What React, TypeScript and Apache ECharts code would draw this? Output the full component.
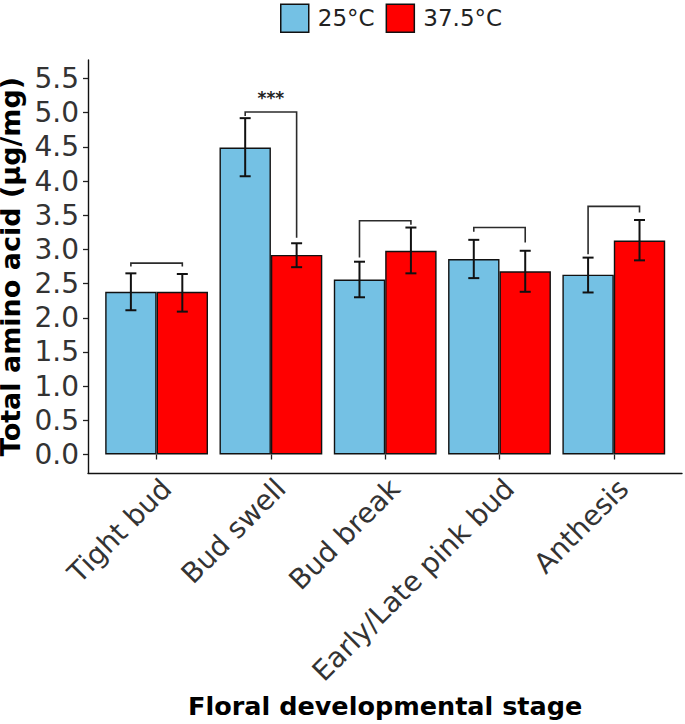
import React, { useEffect, useRef } from "react";
import * as echarts from "echarts";

const categories = ["Tight bud", "Bud swell", "Bud break", "Early/Late pink bud", "Anthesis"];
const seriesNames = ["25°C", "37.5°C"];
const mean25 = [2.38, 4.49, 2.56, 2.86, 2.63];
const low25 = [2.11, 4.07, 2.3, 2.58, 2.37];
const high25 = [2.65, 4.92, 2.82, 3.14, 2.88];
const mean37 = [2.38, 2.92, 2.98, 2.68, 3.13];
const low37 = [2.09, 2.74, 2.65, 2.38, 2.84];
const high37 = [2.64, 3.09, 3.32, 2.98, 3.43];
const bracketTop = [2.8, 5.01, 3.42, 3.32, 3.63];
const bracketLeftEnd = [2.75, 4.95, 2.88, 3.26, 2.93];
const bracketRightEnd = [2.75, 3.17, 3.36, 3.1, 3.54];
const sigLabels = ["", "***", "", "", ""];
const yMin = 0;
const yMax = 5.5;
const yStep = 0.5;

const FONT = "'DejaVu Sans', 'Liberation Sans', Arial, sans-serif";
const BLUE = "#74C1E4";
const RED = "#FF0000";
const INK = "#111111";

function errorRenderer(sign: number) {
  return (params: any, api: any) => {
    const idx = api.value(0);
    const lo = api.coord([idx, api.value(1)]);
    const hi = api.coord([idx, api.value(2)]);
    const bw = api.size([1, 0])[0];
    const x = lo[0] + sign * bw * 0.225;
    const cap = 5.5;
    const style = { stroke: INK, lineWidth: 2 };
    return {
      type: "group",
      children: [
        { type: "line", shape: { x1: x, y1: lo[1], x2: x, y2: hi[1] }, style },
        { type: "line", shape: { x1: x - cap, y1: hi[1], x2: x + cap, y2: hi[1] }, style },
        { type: "line", shape: { x1: x - cap, y1: lo[1], x2: x + cap, y2: lo[1] }, style },
      ],
    };
  };
}

function bracketRenderer(params: any, api: any) {
  const idx = api.value(0);
  const top = api.coord([idx, api.value(1)]);
  const le = api.coord([idx, api.value(2)]);
  const re = api.coord([idx, api.value(3)]);
  const bw = api.size([1, 0])[0];
  const xl = top[0] - bw * 0.225;
  const xr = top[0] + bw * 0.225;
  const label = sigLabels[params.dataIndex];
  const children: any[] = [
    {
      type: "polyline",
      shape: { points: [[xl, le[1]], [xl, top[1]], [xr, top[1]], [xr, re[1]]] },
      style: { stroke: "#2b2b2b", lineWidth: 1.6, fill: "none" },
    },
  ];
  if (label) {
    children.push({
      type: "text",
      style: {
        x: top[0],
        y: top[1] - 14,
        text: label,
        fill: "#222",
        font: `bold 17px ${FONT}`,
        align: "center",
        verticalAlign: "middle",
      },
    });
  }
  return { type: "group", children };
}

export default function App() {
  const ref = useRef<HTMLDivElement>(null);
  useEffect(() => {
    if (!ref.current) return;
    const chart = echarts.init(ref.current, null, { renderer: "svg" });
    const option: any = {
      animation: false,
      backgroundColor: "#ffffff",
      textStyle: { fontFamily: FONT },
      legend: {
        data: seriesNames,
        left: 275,
        top: -1.5,
        itemWidth: 28,
        itemHeight: 28,
        itemGap: 11,
        icon: "rect",
        textStyle: { fontSize: 23, color: "#222", fontFamily: FONT, padding: [0, 0, 0, 4] },
        itemStyle: { borderColor: INK, borderWidth: 1.5 },
      },
      grid: [
        { left: 99.45, top: 78.5, width: 571.5, height: 376, outerBoundsMode: "none", containLabel: false },
        { left: 88, top: 60, width: 594, height: 413, outerBoundsMode: "none", containLabel: false },
      ],
      xAxis: [
        {
          type: "category",
          gridIndex: 0,
          data: categories,
          offset: 18.5,
          axisLine: { show: false },
          axisTick: { show: true, alignWithLabel: true, length: 5, lineStyle: { color: "#222", width: 1.3 } },
          axisLabel: {
            interval: 0,
            rotate: 45,
            fontSize: 28,
            color: "#333",
            margin: 1,
            align: "right",
            verticalAlign: "top",
            fontFamily: FONT,
          },
          name: "Floral developmental stage",
          nameLocation: "middle",
          nameGap: 203,
          nameTextStyle: { fontSize: 25.5, fontWeight: "bold", color: "#000", fontFamily: FONT },
        },
        {
          type: "value",
          gridIndex: 1,
          min: 0,
          max: 1,
          axisLine: { show: true, lineStyle: { color: "#111", width: 1.4 } },
          axisTick: { show: false },
          axisLabel: { show: false },
          splitLine: { show: false },
        },
      ],
      yAxis: [
        {
          type: "value",
          gridIndex: 0,
          min: yMin,
          max: yMax,
          interval: yStep,
          offset: 11.45,
          axisLine: { show: false },
          axisTick: { show: true, length: 5, lineStyle: { color: "#222", width: 1.3 } },
          axisLabel: {
            fontSize: 28,
            color: "#333",
            margin: 9,
            fontFamily: FONT,
            formatter: (v: number) => v.toFixed(1),
          },
          splitLine: { show: false },
          name: "Total amino acid (µg/mg)",
          nameLocation: "middle",
          nameGap: 52,
          nameTextStyle: { fontSize: 27, fontWeight: "bold", color: "#000", fontFamily: FONT },
        },
        {
          type: "value",
          gridIndex: 1,
          min: 0,
          max: 1,
          axisLine: { show: true, lineStyle: { color: "#111", width: 1.4 } },
          axisTick: { show: false },
          axisLabel: { show: false },
          splitLine: { show: false },
        },
      ],
      series: [
        {
          name: seriesNames[0],
          type: "bar",
          xAxisIndex: 0,
          yAxisIndex: 0,
          data: mean25,
          barWidth: 51.4,
          barGap: "0%",
          itemStyle: { color: BLUE, borderColor: INK, borderWidth: 1.4 },
        },
        {
          name: seriesNames[1],
          type: "bar",
          xAxisIndex: 0,
          yAxisIndex: 0,
          data: mean37,
          barWidth: 51.4,
          barGap: "0%",
          itemStyle: { color: RED, borderColor: INK, borderWidth: 1.4 },
        },
        {
          type: "custom",
          xAxisIndex: 0,
          yAxisIndex: 0,
          renderItem: errorRenderer(-1),
          data: categories.map((_, i) => [i, low25[i], high25[i]]),
          encode: { x: 0, y: [1, 2] },
          z: 5,
        },
        {
          type: "custom",
          xAxisIndex: 0,
          yAxisIndex: 0,
          renderItem: errorRenderer(1),
          data: categories.map((_, i) => [i, low37[i], high37[i]]),
          encode: { x: 0, y: [1, 2] },
          z: 5,
        },
        {
          type: "custom",
          xAxisIndex: 0,
          yAxisIndex: 0,
          renderItem: bracketRenderer,
          data: categories.map((_, i) => [i, bracketTop[i], bracketLeftEnd[i], bracketRightEnd[i]]),
          encode: { x: 0, y: [1, 2, 3] },
          clip: false,
          z: 5,
        },
      ],
    };
    chart.setOption(option);
    return () => chart.dispose();
  }, []);
  return <div ref={ref} style={{ position: "absolute", left: 0, top: 0, width: 685, height: 724 }} />;
}
